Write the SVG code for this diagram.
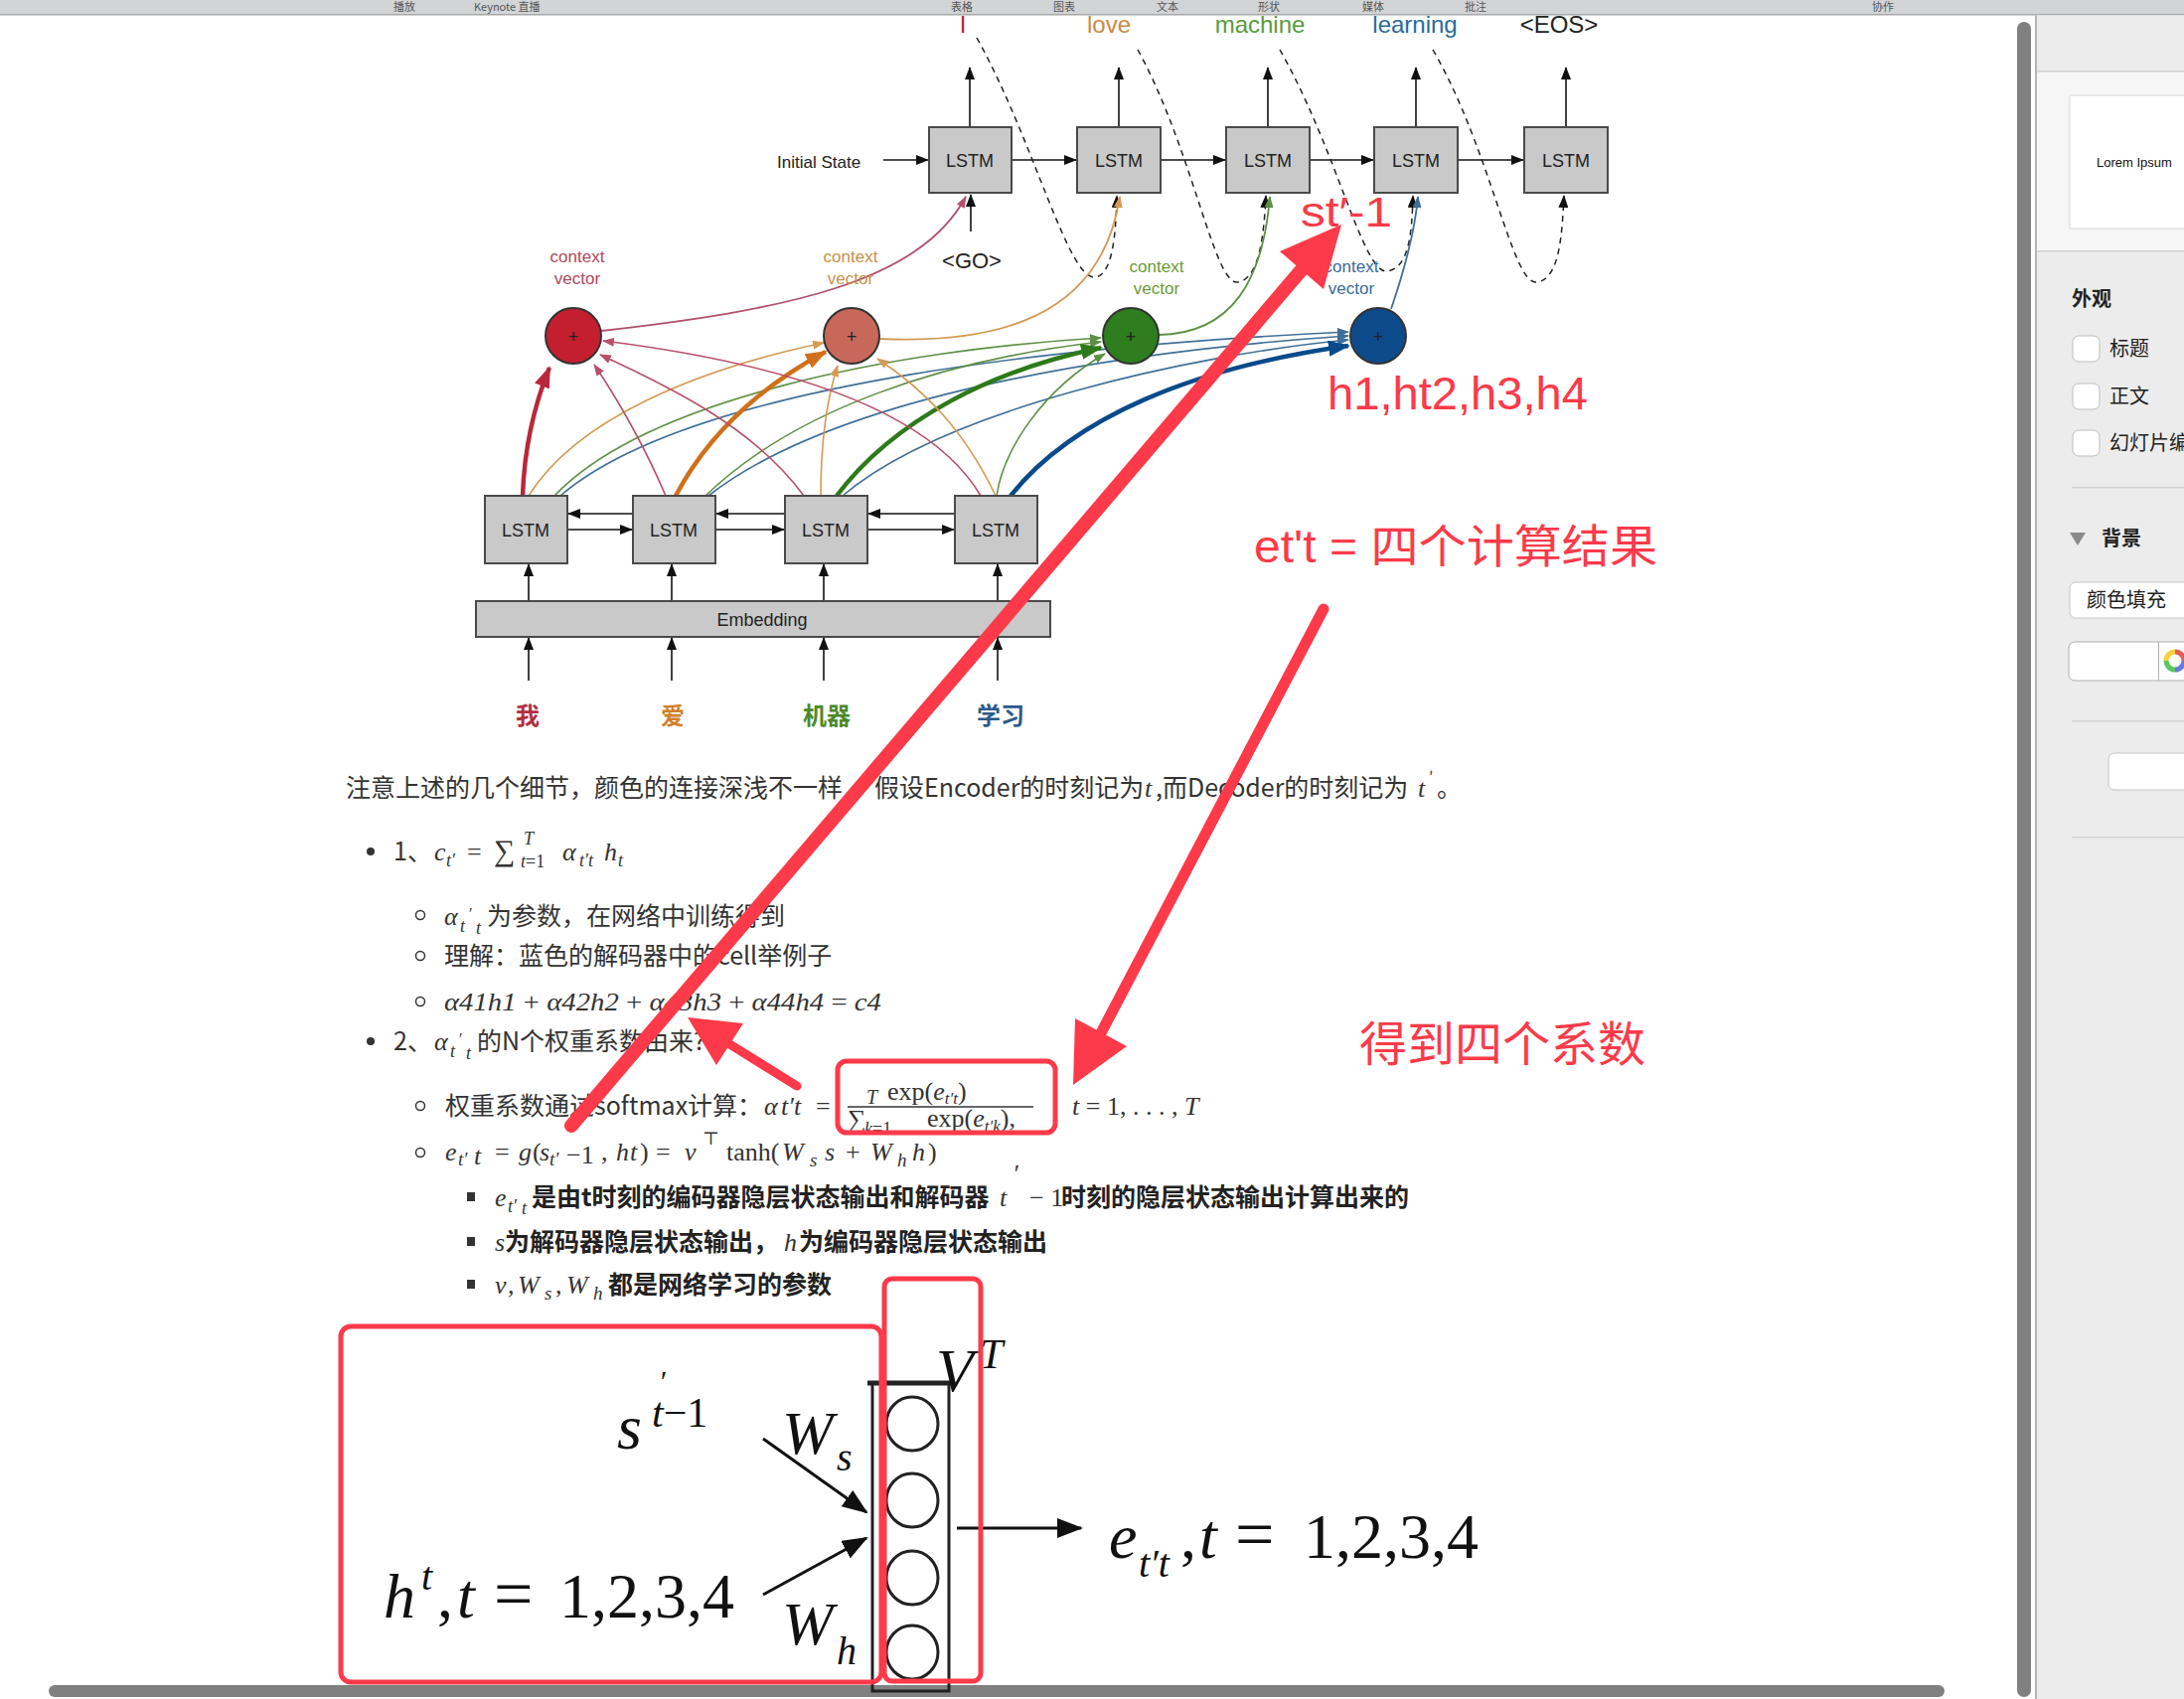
<svg xmlns="http://www.w3.org/2000/svg" width="2198" height="1710" viewBox="0 0 2198 1710">
<defs>
<style>
.lstm rect{fill:#c9c9c9;stroke:#4a4a4a;stroke-width:2}
.lbl{font-family:"Liberation Sans",Arial,sans-serif;fill:#222}
.lt{font-size:18px;text-anchor:middle}
.cv{font-size:17px;text-anchor:middle}
.zh{font-family:"Noto Sans CJK SC","Noto Sans",sans-serif;font-size:24px;font-weight:700;text-anchor:middle}
.bd{font-family:"Noto Sans CJK SC","Noto Sans",sans-serif;font-size:25px;fill:#333}
.bb{font-weight:700;fill:#222}
.m{font-family:"Liberation Serif","DejaVu Serif",serif;font-style:italic;font-size:26px;fill:#333}
.up{font-style:normal}
.fig{font-family:"Liberation Serif","DejaVu Serif",serif;font-style:italic;fill:#111}
.ann{font-family:"Liberation Sans","Noto Sans CJK SC",sans-serif;fill:#fc3a4a}
.blk{stroke:#111;stroke-width:1.6;fill:none}
.dash{stroke:#222;stroke-width:1.5;fill:none;stroke-dasharray:6 5}
.rbox{fill:none;stroke:#fc3a4a;stroke-width:5}
.side{font-family:"Noto Sans CJK SC","Noto Sans",sans-serif;font-size:20px;fill:#222}
.tb{font-family:"Noto Sans CJK SC","Noto Sans",sans-serif;font-size:11px;fill:#555}
</style>
<marker id="ab" markerUnits="userSpaceOnUse" markerWidth="13" markerHeight="10" refX="12" refY="5" orient="auto"><path d="M0,0 L13,5 L0,10 z" fill="#111"/></marker>
<marker id="aBig" markerUnits="userSpaceOnUse" markerWidth="26" markerHeight="20" refX="24" refY="10" orient="auto"><path d="M0,0 L26,10 L0,20 z" fill="#111"/></marker>
<marker id="aRt" markerUnits="userSpaceOnUse" markerWidth="12" markerHeight="9" refX="11" refY="4.5" orient="auto"><path d="M0,0 L12,4.5 L0,9 z" fill="#b8506a"/></marker>
<marker id="aOt" markerUnits="userSpaceOnUse" markerWidth="12" markerHeight="9" refX="11" refY="4.5" orient="auto"><path d="M0,0 L12,4.5 L0,9 z" fill="#d49a55"/></marker>
<marker id="aGt" markerUnits="userSpaceOnUse" markerWidth="12" markerHeight="9" refX="11" refY="4.5" orient="auto"><path d="M0,0 L12,4.5 L0,9 z" fill="#5f8f45"/></marker>
<marker id="aBt" markerUnits="userSpaceOnUse" markerWidth="12" markerHeight="9" refX="11" refY="4.5" orient="auto"><path d="M0,0 L12,4.5 L0,9 z" fill="#3f6f98"/></marker>
<marker id="aRk" markerUnits="userSpaceOnUse" markerWidth="22" markerHeight="16" refX="20" refY="8" orient="auto"><path d="M0,0 L22,8 L0,16 z" fill="#b8283a"/></marker>
<marker id="aOk" markerUnits="userSpaceOnUse" markerWidth="22" markerHeight="16" refX="20" refY="8" orient="auto"><path d="M0,0 L22,8 L0,16 z" fill="#d0701a"/></marker>
<marker id="aGk" markerUnits="userSpaceOnUse" markerWidth="22" markerHeight="16" refX="20" refY="8" orient="auto"><path d="M0,0 L22,8 L0,16 z" fill="#2e7a1a"/></marker>
<marker id="aBk" markerUnits="userSpaceOnUse" markerWidth="22" markerHeight="16" refX="20" refY="8" orient="auto"><path d="M0,0 L22,8 L0,16 z" fill="#0a4a8a"/></marker>
</defs>

<rect x="0" y="0" width="2198" height="1710" fill="#ffffff"/>

<!-- window chrome -->
<g id="topbar">
<rect x="0" y="0" width="2198" height="15" fill="#d3d4d6"/>
<rect x="0" y="14" width="2198" height="1.5" fill="#a8a8a8"/>
<text class="tb" x="396" y="11">播放</text>
<text class="tb" x="477" y="11">Keynote 直播</text>
<text class="tb" x="957" y="11">表格</text>
<text class="tb" x="1060" y="11">图表</text>
<text class="tb" x="1164" y="11">文本</text>
<text class="tb" x="1266" y="11">形状</text>
<text class="tb" x="1371" y="11">媒体</text>
<text class="tb" x="1474" y="11">批注</text>
<text class="tb" x="1884" y="11">协作</text>
</g>

<g id="sidebar">
<rect x="2048" y="15.5" width="2" height="1695" fill="#b5b5b5"/>
<rect x="2050" y="15.5" width="148" height="1695" fill="#ececec"/>
<rect x="2050" y="72" width="148" height="181" fill="#f6f6f6"/>
<rect x="2050" y="71" width="148" height="1.5" fill="#cfcfcf"/>
<rect x="2050" y="252" width="148" height="1.5" fill="#cfcfcf"/>
<rect x="2083" y="96" width="130" height="134" fill="#ffffff" stroke="#d6d6d6" stroke-width="1"/>
<text x="2110" y="168" font-family="Liberation Sans,Arial,sans-serif" font-size="13" fill="#111">Lorem Ipsum</text>
<text class="side" x="2085" y="308" font-weight="700">外观</text>
<rect x="2086" y="338" width="27" height="26" rx="6" fill="#fff" stroke="#bdbdbd"/>
<text class="side" x="2123" y="358">标题</text>
<rect x="2086" y="386" width="27" height="26" rx="6" fill="#fff" stroke="#bdbdbd"/>
<text class="side" x="2123" y="406">正文</text>
<rect x="2086" y="433" width="27" height="26" rx="6" fill="#fff" stroke="#bdbdbd"/>
<text class="side" x="2123" y="453">幻灯片编号</text>
<rect x="2085" y="490" width="113" height="1.5" fill="#d2d2d2"/>
<path d="M2083,536 L2099,536 L2091,549 z" fill="#8a8a8a"/>
<text class="side" x="2115" y="549" font-weight="700">背景</text>
<rect x="2083" y="586" width="130" height="36" rx="6" fill="#fff" stroke="#c4c4c4"/>
<text class="side" x="2100" y="611">颜色填充</text>
<rect x="2082" y="646" width="130" height="39" rx="6" fill="#fff" stroke="#b0b0b0"/>
<rect x="2172" y="646" width="1" height="39" fill="#b0b0b0"/>
<g fill="none" stroke-width="5">
<path d="M2180,665 A9,9 0 0 1 2189,656" stroke="#f4d23a"/>
<path d="M2189,656 A9,9 0 0 1 2198,665" stroke="#e85a5a"/>
<path d="M2180,665 A9,9 0 0 0 2189,674" stroke="#5ac85a"/>
<path d="M2189,674 A9,9 0 0 0 2198,665" stroke="#6a7ae0"/>
</g>
<rect x="2085" y="725" width="113" height="1.5" fill="#d2d2d2"/>
<rect x="2122" y="758" width="90" height="37" rx="6" fill="#fff" stroke="#c4c4c4"/>
<rect x="2085" y="842" width="113" height="1.5" fill="#d2d2d2"/>
</g>

<g id="scrollbars">
<rect x="2030" y="22" width="14" height="1686" rx="7" fill="#808080"/>
<rect x="49" y="1696" width="1908" height="12" rx="6" fill="#808080"/>
</g>

<!-- connectors -->
<g id="connectors">
<line class="blk" x1="889" y1="161" x2="934" y2="161" marker-end="url(#ab)"/>
<line class="blk" x1="1017" y1="161" x2="1083" y2="161" marker-end="url(#ab)"/>
<line class="blk" x1="1168" y1="161" x2="1233" y2="161" marker-end="url(#ab)"/>
<line class="blk" x1="1318" y1="161" x2="1382" y2="161" marker-end="url(#ab)"/>
<line class="blk" x1="1467" y1="161" x2="1533" y2="161" marker-end="url(#ab)"/>
<line class="blk" x1="976" y1="128" x2="976" y2="68" marker-end="url(#ab)"/>
<line class="blk" x1="1126" y1="128" x2="1126" y2="68" marker-end="url(#ab)"/>
<line class="blk" x1="1276" y1="128" x2="1276" y2="68" marker-end="url(#ab)"/>
<line class="blk" x1="1425" y1="128" x2="1425" y2="68" marker-end="url(#ab)"/>
<line class="blk" x1="1576" y1="128" x2="1576" y2="68" marker-end="url(#ab)"/>
<line class="blk" x1="977" y1="233" x2="977" y2="196" marker-end="url(#ab)"/>
<path class="dash" d="M983,38 C1040,140 1075,282 1102,279 C1120,277 1123,235 1124,197" marker-end="url(#ab)"/>
<path class="dash" d="M1145,50 C1200,150 1222,286 1245,284 C1268,282 1272,235 1274,197" marker-end="url(#ab)"/>
<path class="dash" d="M1288,50 C1345,150 1372,276 1396,273 C1418,270 1421,235 1422,197" marker-end="url(#ab)"/>
<path class="dash" d="M1442,50 C1500,150 1522,286 1546,284 C1570,282 1572,235 1574,197" marker-end="url(#ab)"/>
<path d="M605,333 C790,312 925,285 972,198" fill="none" stroke="#b0506a" stroke-width="1.8" marker-end="url(#aRt)"/>
<path d="M885,341 C1000,346 1108,322 1127,198" fill="none" stroke="#d49a55" stroke-width="1.8" marker-end="url(#aOt)"/>
<path d="M1166,337 C1240,336 1271,282 1278,198" fill="none" stroke="#5f8f45" stroke-width="1.8" marker-end="url(#aGt)"/>
<path d="M1400,311 C1414,270 1424,232 1427,198" fill="none" stroke="#3f6f98" stroke-width="1.8" marker-end="url(#aBt)"/>
<path d="M564,499 C700,382 1100,346 1357,334" fill="none" stroke="#3f6f98" stroke-width="1.6" marker-end="url(#aBt)"/>
<path d="M713,499 C850,392 1150,352 1357,338" fill="none" stroke="#3f6f98" stroke-width="1.6" marker-end="url(#aBt)"/>
<path d="M848,499 C950,412 1200,357 1357,342" fill="none" stroke="#3f6f98" stroke-width="1.6" marker-end="url(#aBt)"/>
<path d="M1017,499 C1080,420 1200,370 1357,348" fill="none" stroke="#0a4a8a" stroke-width="4.5" marker-end="url(#aBk)"/>
<path d="M558,499 C650,402 900,352 1108,340" fill="none" stroke="#5f8f45" stroke-width="1.6" marker-end="url(#aGt)"/>
<path d="M710,499 C800,412 950,362 1108,344" fill="none" stroke="#5f8f45" stroke-width="1.6" marker-end="url(#aGt)"/>
<path d="M842,499 C900,422 1000,372 1108,350" fill="none" stroke="#2e7a1a" stroke-width="4.5" marker-end="url(#aGk)"/>
<path d="M1003,499 C1010,452 1050,392 1112,356" fill="none" stroke="#5f8f45" stroke-width="1.6" marker-end="url(#aGt)"/>
<path d="M532,499 C580,422 700,372 829,345" fill="none" stroke="#d49a55" stroke-width="1.6" marker-end="url(#aOt)"/>
<path d="M680,499 C710,442 760,392 831,354" fill="none" stroke="#d0701a" stroke-width="4.5" marker-end="url(#aOk)"/>
<path d="M826,499 C826,450 832,402 843,368" fill="none" stroke="#d49a55" stroke-width="1.6" marker-end="url(#aOt)"/>
<path d="M1002,499 C970,432 930,392 883,361" fill="none" stroke="#d49a55" stroke-width="1.6" marker-end="url(#aOt)"/>
<path d="M526,499 C528,442 540,402 553,370" fill="none" stroke="#b8283a" stroke-width="4.5" marker-end="url(#aRk)"/>
<path d="M670,499 C650,452 622,402 598,367" fill="none" stroke="#b8506a" stroke-width="1.6" marker-end="url(#aRt)"/>
<path d="M809,499 C760,432 680,392 604,357" fill="none" stroke="#b8506a" stroke-width="1.6" marker-end="url(#aRt)"/>
<path d="M987,499 C930,402 760,362 607,343" fill="none" stroke="#b8506a" stroke-width="1.6" marker-end="url(#aRt)"/>
<line class="blk" x1="571" y1="533" x2="636" y2="533" marker-end="url(#ab)"/>
<line class="blk" x1="720" y1="533" x2="789" y2="533" marker-end="url(#ab)"/>
<line class="blk" x1="873" y1="533" x2="960" y2="533" marker-end="url(#ab)"/>
<line class="blk" x1="637" y1="517" x2="572" y2="517" marker-end="url(#ab)"/>
<line class="blk" x1="790" y1="517" x2="721" y2="517" marker-end="url(#ab)"/>
<line class="blk" x1="961" y1="517" x2="874" y2="517" marker-end="url(#ab)"/>
<line class="blk" x1="532" y1="605" x2="532" y2="568" marker-end="url(#ab)"/>
<line class="blk" x1="676" y1="605" x2="676" y2="568" marker-end="url(#ab)"/>
<line class="blk" x1="829" y1="605" x2="829" y2="568" marker-end="url(#ab)"/>
<line class="blk" x1="1004" y1="605" x2="1004" y2="568" marker-end="url(#ab)"/>
<line class="blk" x1="532" y1="685" x2="532" y2="642" marker-end="url(#ab)"/>
<line class="blk" x1="676" y1="685" x2="676" y2="642" marker-end="url(#ab)"/>
<line class="blk" x1="829" y1="685" x2="829" y2="642" marker-end="url(#ab)"/>
<line class="blk" x1="1004" y1="685" x2="1004" y2="642" marker-end="url(#ab)"/>
<line x1="768" y1="1448" x2="872" y2="1522" stroke="#111" stroke-width="3" marker-end="url(#aBig)"/>
<line x1="768" y1="1605" x2="872" y2="1548" stroke="#111" stroke-width="3" marker-end="url(#aBig)"/>
<line x1="963" y1="1538" x2="1088" y2="1538" stroke="#111" stroke-width="3" marker-end="url(#aBig)"/>
</g>

<g id="decoder">
<g class="lstm" id="dec1"><rect x="935" y="128" width="83" height="66"/><text class="lbl lt" x="976" y="168">LSTM</text></g>
<g class="lstm" id="dec2"><rect x="1084" y="128" width="84" height="66"/><text class="lbl lt" x="1126" y="168">LSTM</text></g>
<g class="lstm" id="dec3"><rect x="1234" y="128" width="84" height="66"/><text class="lbl lt" x="1276" y="168">LSTM</text></g>
<g class="lstm" id="dec4"><rect x="1383" y="128" width="84" height="66"/><text class="lbl lt" x="1425" y="168">LSTM</text></g>
<g class="lstm" id="dec5"><rect x="1534" y="128" width="84" height="66"/><text class="lbl lt" x="1576" y="168">LSTM</text></g>
<text class="lbl" x="782" y="169" font-size="17">Initial State</text>
<text class="lbl" x="978" y="270" font-size="22" text-anchor="middle">&lt;GO&gt;</text>
<text class="lbl" x="969" y="33" font-size="24" text-anchor="middle" style="fill:#c02030">I</text>
<text class="lbl" x="1116" y="33" font-size="24" text-anchor="middle" style="fill:#c88a45">love</text>
<text class="lbl" x="1268" y="33" font-size="24" text-anchor="middle" style="fill:#5a9a3a">machine</text>
<text class="lbl" x="1424" y="33" font-size="24" text-anchor="middle" style="fill:#2a6a9a">learning</text>
<text class="lbl" x="1569" y="33" font-size="24" text-anchor="middle">&lt;EOS&gt;</text>
</g>

<g id="context">
<g id="ctx1"><circle cx="577" cy="338" r="28" fill="#c41f2e" stroke="#333" stroke-width="2"/><text class="lbl" x="577" y="345" font-size="18" text-anchor="middle">+</text>
<text class="lbl cv" x="581" y="264" style="fill:#b0485e">context</text><text class="lbl cv" x="581" y="286" style="fill:#b0485e">vector</text></g>
<g id="ctx2"><circle cx="857" cy="338" r="28" fill="#c8685a" stroke="#333" stroke-width="2"/><text class="lbl" x="857" y="345" font-size="18" text-anchor="middle">+</text>
<text class="lbl cv" x="856" y="264" style="fill:#c8924a">context</text><text class="lbl cv" x="856" y="286" style="fill:#c8924a">vector</text></g>
<g id="ctx3"><circle cx="1138" cy="338" r="28" fill="#2e7d1f" stroke="#333" stroke-width="2"/><text class="lbl" x="1138" y="345" font-size="18" text-anchor="middle">+</text>
<text class="lbl cv" x="1164" y="274" style="fill:#6a9a3a">context</text><text class="lbl cv" x="1164" y="296" style="fill:#6a9a3a">vector</text></g>
<g id="ctx4"><circle cx="1387" cy="338" r="28" fill="#0d4a8c" stroke="#333" stroke-width="2"/><text class="lbl" x="1387" y="345" font-size="18" text-anchor="middle">+</text>
<text class="lbl cv" x="1360" y="274" style="fill:#3a6a9a">context</text><text class="lbl cv" x="1360" y="296" style="fill:#3a6a9a">vector</text></g>
</g>

<g id="encoder">
<g class="lstm" id="enc1"><rect x="488" y="499" width="83" height="68"/><text class="lbl lt" x="529" y="540">LSTM</text></g>
<g class="lstm" id="enc2"><rect x="637" y="499" width="83" height="68"/><text class="lbl lt" x="678" y="540">LSTM</text></g>
<g class="lstm" id="enc3"><rect x="790" y="499" width="83" height="68"/><text class="lbl lt" x="831" y="540">LSTM</text></g>
<g class="lstm" id="enc4"><rect x="961" y="499" width="83" height="68"/><text class="lbl lt" x="1002" y="540">LSTM</text></g>
<g class="lstm" id="embedding"><rect x="479" y="605" width="578" height="36"/><text class="lbl lt" x="767" y="630">Embedding</text></g>
<text class="zh" x="531" y="729" fill="#b03040">我</text>
<text class="zh" x="677" y="729" fill="#d0802a">爱</text>
<text class="zh" x="832" y="729" fill="#4a8a2a">机器</text>
<text class="zh" x="1007" y="729" fill="#2a5a8a">学习</text>
</g>

<g id="body">
<text class="bd" y="802"><tspan x="348">注意上述的几个细节，颜色的连接深浅不一样，</tspan><tspan x="880">假设Encoder的时刻记为</tspan><tspan x="1152" class="m">t</tspan><tspan x="1163">,而Decoder的时刻记为</tspan><tspan x="1427" class="m">t</tspan><tspan x="1438" y="788" font-size="16">′</tspan><tspan x="1446" y="802">。</tspan></text>

<circle cx="373" cy="857" r="4" fill="#333"/>
<text class="bd" x="396" y="866">1、</text>
<text class="m" y="866"><tspan x="437">c</tspan><tspan x="449" y="872" font-size="18">t′</tspan><tspan x="470" y="866" class="up">=</tspan><tspan x="497" class="up" font-size="30">∑</tspan><tspan x="527" y="850" font-size="18">T</tspan><tspan x="524" y="873" font-size="18">t<tspan class="up">=1</tspan></tspan><tspan x="566" y="866">α</tspan><tspan x="583" y="872" font-size="18">t′t</tspan><tspan x="608" y="866">h</tspan><tspan x="622" y="872" font-size="18">t</tspan></text>

<circle cx="423" cy="921" r="4.5" fill="none" stroke="#333" stroke-width="1.5"/>
<text class="m" y="931"><tspan x="447">α</tspan><tspan x="463" y="938" font-size="18">t</tspan><tspan x="471" y="925" font-size="16">′</tspan><tspan x="479" y="940" font-size="18">t</tspan></text>
<text class="bd" x="490" y="931">为参数，在网络中训练得到</text>

<circle cx="423" cy="962" r="4.5" fill="none" stroke="#333" stroke-width="1.5"/>
<text class="bd" x="447" y="971">理解：蓝色的解码器中的cell举例子</text>

<circle cx="423" cy="1008" r="4.5" fill="none" stroke="#333" stroke-width="1.5"/>
<text class="m" x="447" y="1017" textLength="440" lengthAdjust="spacingAndGlyphs">α41h1 <tspan class="up">+</tspan> α42h2 <tspan class="up">+</tspan> α43h3 <tspan class="up">+</tspan> α44h4 <tspan class="up">=</tspan> c4</text>

<circle cx="373" cy="1048" r="4" fill="#333"/>
<text class="bd" x="396" y="1057">2、</text>
<text class="m" y="1057"><tspan x="437">α</tspan><tspan x="453" y="1064" font-size="18">t</tspan><tspan x="461" y="1051" font-size="16">′</tspan><tspan x="469" y="1066" font-size="18">t</tspan></text>
<text class="bd" x="480" y="1057">的N个权重系数由来?</text>

<circle cx="423" cy="1113" r="4.5" fill="none" stroke="#333" stroke-width="1.5"/>
<text class="bd" x="448" y="1122">权重系数通过softmax计算：</text>
<text class="m" y="1122"><tspan x="769">α</tspan><tspan x="786">t′t</tspan><tspan x="821" class="up">=</tspan></text>
<text class="m" font-size="24" y="1108"><tspan x="872" y="1111" font-size="20">T</tspan><tspan x="893" y="1107" class="up">exp(</tspan><tspan>e</tspan><tspan font-size="17" y="1111">t′t</tspan><tspan class="up" y="1107">)</tspan></text>
<line x1="853" y1="1114" x2="1040" y2="1114" stroke="#333" stroke-width="1.3"/>
<text class="m" font-size="24" y="1135"><tspan x="853" class="up" font-size="26">∑</tspan><tspan x="870" y="1142" font-size="18">k<tspan class="up">=1</tspan></tspan><tspan x="933" y="1134" class="up">exp(</tspan><tspan>e</tspan><tspan font-size="17" y="1139">t′k</tspan><tspan class="up" y="1134">),</tspan></text>
<text class="m" x="1079" y="1122" font-size="24">t <tspan class="up">= 1, . . . ,</tspan> T</text>

<circle cx="423" cy="1160" r="4.5" fill="none" stroke="#333" stroke-width="1.5"/>
<text class="m" y="1168"><tspan x="448">e</tspan><tspan x="461" y="1173" font-size="19">t′</tspan><tspan x="477" y="1172">t</tspan><tspan x="498" y="1168" class="up">=</tspan><tspan x="522">g</tspan><tspan x="536" class="up">(</tspan><tspan x="543">s</tspan><tspan x="553" y="1173" font-size="19">t′</tspan><tspan x="570" y="1171" class="up">−1</tspan><tspan x="605" y="1168" class="up">,</tspan><tspan x="620">h</tspan><tspan x="634">t</tspan><tspan x="644" class="up">)</tspan><tspan x="660" class="up">=</tspan><tspan x="689">v</tspan><tspan x="707" y="1152" class="up" font-size="18">⊤</tspan><tspan x="731" y="1168" class="up">tanh(</tspan><tspan x="787">W</tspan><tspan x="815" y="1174" font-size="19">s</tspan><tspan x="830" y="1168">s</tspan><tspan x="851" class="up">+</tspan><tspan x="876">W</tspan><tspan x="903" y="1174" font-size="19">h</tspan><tspan x="918" y="1168">h</tspan><tspan x="934" class="up">)</tspan></text>

<rect x="470" y="1200" width="8" height="9" fill="#333"/>
<text class="m" y="1214"><tspan x="498">e</tspan><tspan x="511" y="1220" font-size="18">t′</tspan><tspan x="525" y="1222" font-size="18">t</tspan></text>
<text class="bd bb" x="535" y="1214">是由t时刻的编码器隐层状态输出和解码器</text>
<text class="m" y="1214"><tspan x="1006">t</tspan><tspan x="1019" y="1190">′</tspan><tspan x="1036" y="1214" class="up">− 1</tspan></text>
<text class="bd bb" x="1068" y="1214">时刻的隐层状态输出计算出来的</text>

<rect x="470" y="1245" width="8" height="9" fill="#333"/>
<text class="m" x="498" y="1259">s</text>
<text class="bd bb" x="508" y="1259">为解码器隐层状态输出，</text>
<text class="m" x="789" y="1259">h</text>
<text class="bd bb" x="804" y="1259">为编码器隐层状态输出</text>

<rect x="470" y="1288" width="8" height="9" fill="#333"/>
<text class="m" y="1302" font-size="27"><tspan x="498">v</tspan><tspan x="511" class="up">,</tspan><tspan x="521">W</tspan><tspan x="548" y="1308" font-size="19">s</tspan><tspan x="559" y="1302" class="up">,</tspan><tspan x="570">W</tspan><tspan x="597" y="1308" font-size="19">h</tspan></text>
<text class="bd bb" x="612" y="1302">都是网络学习的参数</text>
</g>

<g id="scorer">
<rect x="878" y="1392" width="77" height="310" fill="none" stroke="#222" stroke-width="3"/>
<line x1="873" y1="1392" x2="958" y2="1392" stroke="#222" stroke-width="5"/>
<ellipse cx="918" cy="1433" rx="26" ry="27" fill="none" stroke="#222" stroke-width="3"/>
<ellipse cx="918" cy="1510" rx="26" ry="27" fill="none" stroke="#222" stroke-width="3"/>
<ellipse cx="918" cy="1588" rx="26" ry="27" fill="none" stroke="#222" stroke-width="3"/>
<ellipse cx="918" cy="1663" rx="26" ry="27" fill="none" stroke="#222" stroke-width="3"/>
<text class="fig" x="942" y="1400" font-size="62">V<tspan x="986" y="1377" font-size="42">T</tspan></text>
<text class="fig" x="621" y="1458" font-size="64">s<tspan x="663" y="1400" font-size="30">′</tspan><tspan x="656" y="1436" font-size="42">t</tspan><tspan font-size="42" font-style="normal">−1</tspan></text>
<text class="fig" x="787" y="1463" font-size="62">W<tspan x="842" y="1480" font-size="40">s</tspan></text>
<text class="fig" x="386" y="1628" font-size="64">h<tspan x="424" y="1600" font-size="40">t</tspan><tspan x="440" y="1628" font-style="normal">,</tspan><tspan x="460">t</tspan><tspan x="497" font-style="normal" font-size="70">=</tspan><tspan x="563" font-style="normal">1,2,3,4</tspan></text>
<text class="fig" x="787" y="1655" font-size="62">W<tspan x="842" y="1675" font-size="40">h</tspan></text>
<text class="fig" x="1116" y="1568" font-size="64">e<tspan x="1146" y="1587" font-size="40">t′t</tspan><tspan x="1188" y="1568" font-style="normal">,</tspan><tspan x="1207">t</tspan><tspan x="1243" font-style="normal" font-size="70">=</tspan><tspan x="1312" font-style="normal">1,2,3,4</tspan></text>
</g>

<g id="annotations">
<rect class="rbox" x="843" y="1068" width="219" height="72" rx="9"/>
<rect class="rbox" x="343" y="1335" width="544" height="358" rx="10"/>
<rect class="rbox" x="890" y="1287" width="97" height="405" rx="8"/>
<g id="arrowA"><line x1="575" y1="1133" x2="1318" y2="262" stroke="#fc3a4a" stroke-width="14" stroke-linecap="round"/><polygon points="1350,226 1332,291 1288,253" fill="#fc3a4a"/></g>
<g id="arrowB"><line x1="1332" y1="613" x2="1100" y2="1055" stroke="#fc3a4a" stroke-width="11" stroke-linecap="round"/><polygon points="1080,1092 1134,1053 1082,1025" fill="#fc3a4a"/></g>
<g id="arrowC"><line x1="802" y1="1093" x2="728" y2="1047" stroke="#fc3a4a" stroke-width="9" stroke-linecap="round"/><polygon points="692,1024 748,1030 721,1072" fill="#fc3a4a"/></g>
<text class="ann" x="1309" y="228" font-size="42" textLength="92" lengthAdjust="spacingAndGlyphs">st′-1</text>
<text class="ann" x="1336" y="412" font-size="46" textLength="262" lengthAdjust="spacingAndGlyphs">h1,ht2,h3,h4</text>
<text class="ann" x="1262" y="566" font-size="46" textLength="406" lengthAdjust="spacingAndGlyphs">et't = 四个计算结果</text>
<text class="ann" x="1368" y="1068" font-size="48">得到四个系数</text>
</g>
</svg>
